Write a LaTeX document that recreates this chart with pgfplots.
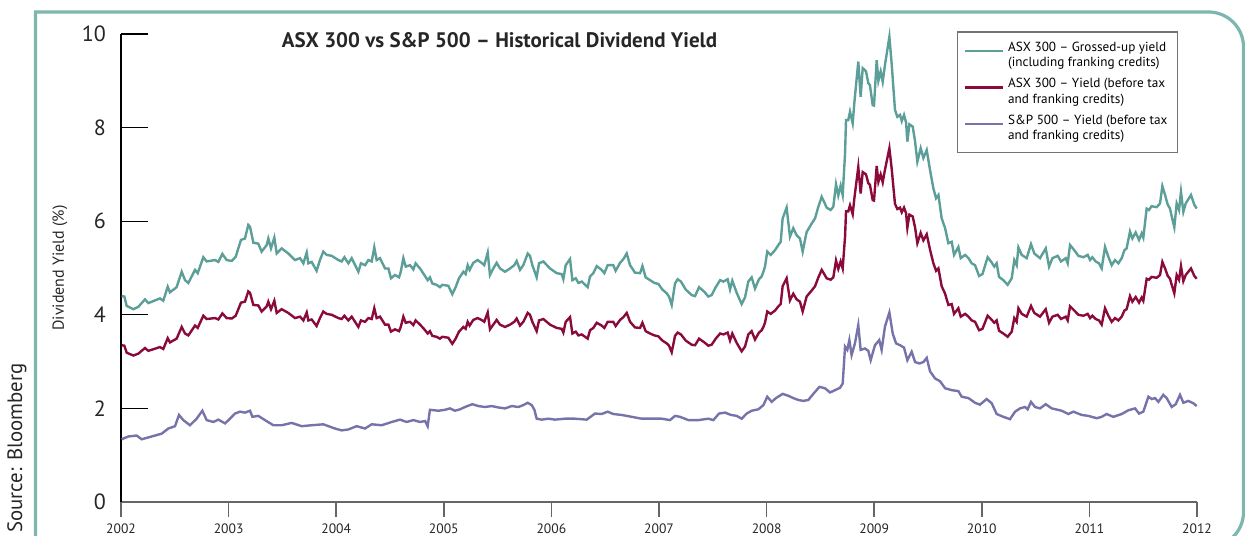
\documentclass[border=0pt]{standalone}
\usepackage{pgfplots}
\usepackage{pgfplotstable}
\pgfplotsset{compat=1.18}
\usepackage{fontspec}
\setmainfont{PT Sans}
\definecolor{cteal}{HTML}{5C9E98}
\definecolor{cred}{HTML}{8B0A3C}
\definecolor{cpurp}{HTML}{7673AA}
\definecolor{cframe}{HTML}{7DB5AF}
\pgfplotstableread{
yr g y
2002.006 4.40 3.35
2002.031 4.39 3.34
2002.053 4.19 3.19
2002.115 4.12 3.13
2002.161 4.17 3.17
2002.223 4.33 3.29
2002.254 4.25 3.23
2002.362 4.35 3.31
2002.393 4.30 3.27
2002.434 4.60 3.50
2002.455 4.48 3.41
2002.517 4.59 3.49
2002.564 4.92 3.74
2002.595 4.74 3.60
2002.626 4.68 3.56
2002.688 4.96 3.77
2002.713 4.89 3.72
2002.765 5.23 3.98
2002.796 5.14 3.91
2002.874 5.17 3.93
2002.905 5.13 3.90
2002.942 5.30 4.03
2002.982 5.17 3.93
2003.029 5.15 3.92
2003.066 5.24 3.98
2003.115 5.60 4.26
2003.152 5.63 4.28
2003.183 5.92 4.50
2003.199 5.88 4.47
2003.230 5.54 4.21
2003.276 5.52 4.20
2003.307 5.35 4.07
2003.354 5.49 4.18
2003.369 5.63 4.28
2003.394 5.42 4.12
2003.425 5.65 4.30
2003.447 5.31 4.04
2003.493 5.42 4.12
2003.555 5.31 4.04
2003.617 5.17 3.93
2003.664 5.21 3.96
2003.695 5.10 3.88
2003.726 5.33 4.05
2003.741 5.10 3.88
2003.772 5.13 3.90
2003.818 4.94 3.76
2003.849 5.17 3.93
2003.880 5.35 4.07
2003.911 5.28 4.02
2003.958 5.26 4.00
2004.020 5.17 3.93
2004.051 5.14 3.91
2004.076 5.23 3.98
2004.113 5.10 3.88
2004.144 5.21 3.96
2004.206 4.92 3.74
2004.230 5.10 3.88
2004.268 5.06 3.85
2004.299 5.17 3.93
2004.330 5.14 3.91
2004.354 5.44 4.14
2004.376 5.17 3.93
2004.407 5.21 3.96
2004.454 4.99 3.79
2004.485 4.99 3.79
2004.509 4.78 3.64
2004.546 4.85 3.69
2004.584 4.80 3.65
2004.600 4.92 3.74
2004.624 5.21 3.96
2004.646 5.03 3.83
2004.686 5.06 3.85
2004.717 4.97 3.78
2004.738 5.10 3.88
2004.779 4.99 3.79
2004.819 4.85 3.69
2004.850 4.74 3.60
2004.871 4.80 3.65
2004.893 4.67 3.55
2004.933 4.64 3.53
2004.964 4.59 3.49
2004.986 4.64 3.53
2005.042 4.62 3.51
2005.079 4.44 3.38
2005.110 4.59 3.49
2005.141 4.78 3.64
2005.182 4.92 3.74
2005.203 4.87 3.70
2005.222 5.06 3.85
2005.240 4.96 3.77
2005.274 5.11 3.89
2005.314 5.17 3.93
2005.351 5.11 3.89
2005.376 5.06 3.85
2005.408 5.33 4.05
2005.429 4.85 3.69
2005.460 4.99 3.79
2005.491 5.11 3.89
2005.522 4.99 3.79
2005.569 4.92 3.74
2005.615 4.99 3.79
2005.655 5.06 3.85
2005.677 5.15 3.92
2005.708 4.96 3.77
2005.739 5.06 3.85
2005.780 5.31 4.04
2005.801 5.26 4.00
2005.823 5.06 3.85
2005.863 4.80 3.65
2005.885 5.10 3.88
2005.925 5.14 3.91
2005.987 4.99 3.79
2006.049 4.89 3.72
2006.095 4.87 3.70
2006.111 4.76 3.62
2006.133 5.06 3.85
2006.173 5.19 3.95
2006.195 4.74 3.60
2006.226 4.78 3.64
2006.251 4.68 3.56
2006.282 4.71 3.58
2006.337 4.59 3.49
2006.359 4.82 3.67
2006.390 4.89 3.72
2006.421 5.04 3.83
2006.467 4.96 3.77
2006.492 4.89 3.72
2006.523 5.06 3.85
2006.575 5.06 3.85
2006.597 4.94 3.76
2006.638 5.11 3.89
2006.669 5.19 3.95
2006.700 5.31 4.04
2006.731 5.06 3.85
2006.777 4.90 3.73
2006.824 4.89 3.72
2006.846 5.04 3.83
2006.876 4.80 3.65
2006.917 4.74 3.60
2006.957 4.68 3.56
2006.994 4.66 3.54
2007.031 4.54 3.45
2007.071 4.46 3.39
2007.093 4.39 3.34
2007.118 4.21 3.20
2007.149 4.67 3.55
2007.173 4.76 3.62
2007.204 4.71 3.58
2007.248 4.54 3.45
2007.304 4.42 3.36
2007.335 4.40 3.35
2007.372 4.59 3.49
2007.422 4.49 3.41
2007.458 4.39 3.34
2007.489 4.42 3.36
2007.527 4.59 3.49
2007.568 4.74 3.60
2007.599 4.71 3.58
2007.638 4.76 3.62
2007.660 4.54 3.45
2007.681 4.73 3.60
2007.722 4.47 3.40
2007.768 4.23 3.22
2007.799 4.37 3.32
2007.830 4.71 3.58
2007.861 4.80 3.65
2007.892 4.56 3.47
2007.929 4.76 3.62
2007.954 4.82 3.67
2007.970 4.92 3.74
2007.985 5.03 3.83
2008.006 5.35 4.07
2008.038 5.28 4.02
2008.078 5.38 4.09
2008.109 5.49 4.18
2008.131 5.56 4.23
2008.149 6.06 4.61
2008.186 6.29 4.78
2008.217 5.67 4.31
2008.248 5.85 4.45
2008.279 5.70 4.33
2008.310 5.63 4.28
2008.335 5.35 4.07
2008.372 5.77 4.39
2008.419 5.95 4.52
2008.450 6.06 4.61
2008.481 6.31 4.80
2008.512 6.52 4.96
2008.533 6.42 4.88
2008.558 6.29 4.78
2008.595 6.24 4.75
2008.620 6.31 4.80
2008.645 6.79 5.16
2008.666 6.55 4.98
2008.688 6.76 5.14
2008.707 6.56 4.99
2008.729 7.45 5.67
2008.738 8.16 6.21
2008.759 8.16 6.21
2008.775 8.34 6.34
2008.800 8.09 6.15
2008.815 8.52 6.48
2008.852 9.41 7.16
2008.874 8.66 6.59
2008.893 9.27 7.05
2008.924 9.20 7.00
2008.945 8.95 6.81
2008.960 8.91 6.78
2008.986 8.48 6.45
2008.998 8.47 6.44
2009.023 9.44 7.18
2009.039 9.00 6.84
2009.060 9.20 7.00
2009.079 8.98 6.83
2009.100 9.34 7.10
2009.141 9.94 7.56
2009.162 9.37 7.13
2009.193 8.38 6.37
2009.215 8.23 6.26
2009.240 8.27 6.29
2009.256 8.14 6.19
2009.277 8.27 6.29
2009.296 8.11 6.17
2009.308 7.70 5.86
2009.327 8.07 6.14
2009.358 8.02 6.10
2009.380 7.70 5.86
2009.401 7.27 5.53
2009.432 7.56 5.75
2009.457 7.35 5.59
2009.488 7.52 5.72
2009.519 7.09 5.39
2009.550 6.70 5.10
2009.575 6.49 4.94
2009.597 6.56 4.99
2009.627 6.06 4.61
2009.659 5.85 4.45
2009.689 5.53 4.21
2009.720 5.56 4.23
2009.742 5.28 4.02
2009.782 5.45 4.14
2009.804 5.21 3.96
2009.845 5.28 4.02
2009.876 5.21 3.96
2009.906 5.10 3.88
2009.937 5.06 3.85
2009.975 4.83 3.67
2010.006 4.87 3.70
2010.054 5.23 3.98
2010.085 5.14 3.91
2010.116 5.03 3.83
2010.138 5.10 3.88
2010.160 4.81 3.66
2010.200 4.74 3.60
2010.240 4.64 3.53
2010.278 4.78 3.64
2010.302 5.17 3.93
2010.324 5.06 3.85
2010.340 5.44 4.14
2010.371 5.28 4.02
2010.417 5.21 3.96
2010.457 5.51 4.19
2010.488 5.31 4.04
2010.541 5.21 3.96
2010.594 5.42 4.12
2010.625 5.03 3.83
2010.656 5.21 3.96
2010.705 5.26 4.00
2010.736 5.14 3.91
2010.780 5.21 3.96
2010.798 5.10 3.88
2010.820 5.49 4.18
2010.860 5.38 4.09
2010.897 5.26 4.00
2010.944 5.23 3.98
2010.984 5.28 4.02
2011.006 5.17 3.93
2011.027 5.23 3.98
2011.058 5.14 3.91
2011.089 5.10 3.88
2011.114 4.99 3.79
2011.145 5.45 4.14
2011.176 5.24 3.98
2011.207 5.06 3.85
2011.238 5.17 3.93
2011.269 5.10 3.88
2011.300 5.21 3.96
2011.325 5.38 4.09
2011.346 5.42 4.12
2011.377 5.78 4.40
2011.399 5.63 4.28
2011.430 5.76 4.38
2011.461 5.60 4.26
2011.486 5.74 4.37
2011.501 5.65 4.30
2011.532 6.27 4.77
2011.554 6.24 4.75
2011.578 6.32 4.81
2011.625 6.30 4.79
2011.656 6.38 4.85
2011.678 6.75 5.13
2011.703 6.56 4.99
2011.728 6.35 4.83
2011.749 6.27 4.77
2011.765 6.10 4.64
2011.789 5.87 4.46
2011.811 6.38 4.85
2011.833 6.24 4.75
2011.851 6.63 5.04
2011.873 6.20 4.72
2011.895 6.38 4.85
2011.944 6.56 4.99
2011.975 6.35 4.83
2011.997 6.27 4.77
}\asxdata
\pgfplotstableread{
yr s
2002.006 1.34
2002.068 1.40
2002.146 1.42
2002.192 1.34
2002.254 1.38
2002.316 1.42
2002.378 1.46
2002.440 1.57
2002.502 1.62
2002.539 1.86
2002.579 1.75
2002.641 1.64
2002.703 1.78
2002.756 1.95
2002.796 1.75
2002.858 1.71
2002.905 1.76
2002.967 1.68
2003.013 1.78
2003.059 1.89
2003.106 1.93
2003.152 1.91
2003.199 1.95
2003.221 1.82
2003.276 1.84
2003.338 1.75
2003.416 1.64
2003.493 1.64
2003.586 1.69
2003.679 1.62
2003.772 1.64
2003.880 1.66
2003.989 1.57
2004.051 1.53
2004.113 1.55
2004.190 1.62
2004.268 1.57
2004.330 1.66
2004.423 1.64
2004.516 1.71
2004.593 1.76
2004.655 1.71
2004.717 1.75
2004.779 1.71
2004.826 1.73
2004.850 1.62
2004.871 1.97
2004.949 1.95
2005.011 1.97
2005.057 2.00
2005.104 1.95
2005.150 1.98
2005.197 2.03
2005.265 2.09
2005.321 2.05
2005.383 2.03
2005.445 2.05
2005.507 2.02
2005.569 2.00
2005.631 2.05
2005.693 2.03
2005.739 2.07
2005.780 2.12
2005.817 2.07
2005.842 1.97
2005.863 1.78
2005.910 1.76
2005.972 1.78
2006.033 1.76
2006.126 1.78
2006.219 1.78
2006.328 1.76
2006.405 1.89
2006.467 1.88
2006.523 1.93
2006.575 1.88
2006.653 1.86
2006.746 1.82
2006.839 1.78
2006.932 1.78
2007.025 1.78
2007.102 1.75
2007.149 1.84
2007.195 1.82
2007.273 1.75
2007.366 1.75
2007.458 1.78
2007.505 1.75
2007.558 1.89
2007.614 1.91
2007.669 1.86
2007.722 1.84
2007.768 1.78
2007.815 1.89
2007.861 1.95
2007.923 1.98
2007.970 2.07
2008.006 2.25
2008.047 2.14
2008.087 2.22
2008.149 2.31
2008.202 2.27
2008.248 2.22
2008.295 2.18
2008.341 2.16
2008.388 2.18
2008.434 2.31
2008.491 2.46
2008.543 2.43
2008.589 2.34
2008.636 2.39
2008.682 2.44
2008.707 2.53
2008.729 3.32
2008.750 3.25
2008.769 3.46
2008.790 3.14
2008.821 3.39
2008.852 3.78
2008.874 3.25
2008.914 3.28
2008.945 3.23
2008.967 3.03
2009.007 3.35
2009.047 3.46
2009.069 3.25
2009.100 3.75
2009.141 4.05
2009.172 3.60
2009.203 3.39
2009.240 3.35
2009.277 3.30
2009.308 3.03
2009.348 3.21
2009.380 2.99
2009.420 2.96
2009.457 2.99
2009.488 3.08
2009.519 2.79
2009.566 2.64
2009.612 2.58
2009.659 2.43
2009.720 2.39
2009.782 2.37
2009.813 2.25
2009.876 2.22
2009.937 2.12
2009.983 2.08
2010.045 2.20
2010.092 2.11
2010.138 1.88
2010.200 1.82
2010.262 1.77
2010.309 1.93
2010.355 2.00
2010.402 2.03
2010.426 1.98
2010.457 2.14
2010.495 2.03
2010.541 2.00
2010.594 2.09
2010.650 2.00
2010.743 1.95
2010.804 1.88
2010.851 1.93
2010.928 1.86
2010.990 1.84
2011.068 1.79
2011.114 1.82
2011.160 1.88
2011.222 1.82
2011.300 1.88
2011.362 1.96
2011.424 2.00
2011.461 1.89
2011.501 1.93
2011.548 2.25
2011.579 2.20
2011.610 2.22
2011.641 2.14
2011.687 2.29
2011.718 2.22
2011.765 2.03
2011.802 2.09
2011.842 2.29
2011.873 2.12
2011.919 2.16
2011.966 2.11
2011.997 2.05
}\spxdata
\begin{document}
\begin{tikzpicture}
\useasboundingbox (0pt,0pt) rectangle (622.5pt,267.5pt);
\draw[cframe, line width=1.6pt] (17.75pt,-8pt) -- (17.75pt,261.5pt) -- (604.25pt,261.5pt)
  arc[start angle=90,end angle=0,radius=17.5pt] -- (621.75pt,11.5pt)
  arc[start angle=0,end angle=-90,radius=17.5pt] -- (17.75pt,-6pt);
\begin{axis}[
  at={(60.5pt,16.5pt)}, anchor=south west,
  scale only axis, width=538pt, height=234pt,
  xmin=2002, xmax=2012, ymin=0, ymax=10,
  axis lines*=left,
  x axis line style={draw=black!60, line width=1.1pt},
  y axis line style={draw=black, line width=0.7pt},
  xtick={2002,2003,2004,2005,2006,2007,2008,2009,2010,2011,2012},
  xticklabels={2002,2003,2004,2005,2006,2007,2008,2009,2010,2011,2012},
  ytick={0,2,4,6,8,10},
  xtick align=outside, ytick align=inside,
  major tick length=13.5pt,
  x tick style={draw=black!60, line width=0.8pt, /pgfplots/major tick length=7.5pt},
  y tick style={draw=black, line width=0.6pt},
  xticklabel shift=-6pt,
  /pgf/number format/assume math mode=true,
  xticklabel style={font=\fontsize{6.8}{8}\selectfont, text=black!85},
  yticklabel style={font=\fontsize{11}{13}\selectfont, text=black!85, xshift=-4pt},
  legend image code/.code={\draw[#1] (0pt,2.3pt) -- (19pt,2.3pt);},
  legend style={at={(0.777,1.006)}, anchor=north west, draw=black!55, line width=0.7pt,
    font=\fontsize{6.6}{7.6}\selectfont, cells={align=left, anchor=base west},
    row sep=0.5pt, inner xsep=3pt, inner ysep=3pt},
  legend cell align=left,
  clip=false,
]
\addplot[cteal, line width=1.2pt] table[x=yr, y=g] {\asxdata};
\addlegendentry{ASX 300 -- Grossed-up yield\\(including franking credits)}
\addplot[cred, line width=1.2pt] table[x=yr, y=y] {\asxdata};
\addlegendentry{ASX 300 -- Yield (before tax\\and franking credits)}
\addplot[cpurp, line width=1.2pt] table[x=yr, y=s] {\spxdata};
\addlegendentry{S\&P 500 -- Yield (before tax\\and franking credits)}
\end{axis}
\node[font=\bfseries\fontsize{10.5}{12}\selectfont, text=black!85] at (249.75pt,247.5pt) {ASX 300 vs S\&P 500 -- Historical Dividend Yield};
\node[rotate=90, font=\fontsize{8}{9}\selectfont, text=black!85] at (30pt,133.5pt) {Dividend Yield (\%)};
\node[rotate=90, anchor=west, inner sep=0pt, font=\fontsize{10.4}{12}\selectfont, text=black!85] at (8.5pt,1pt) {Source: Bloomberg};
\end{tikzpicture}
\end{document}
